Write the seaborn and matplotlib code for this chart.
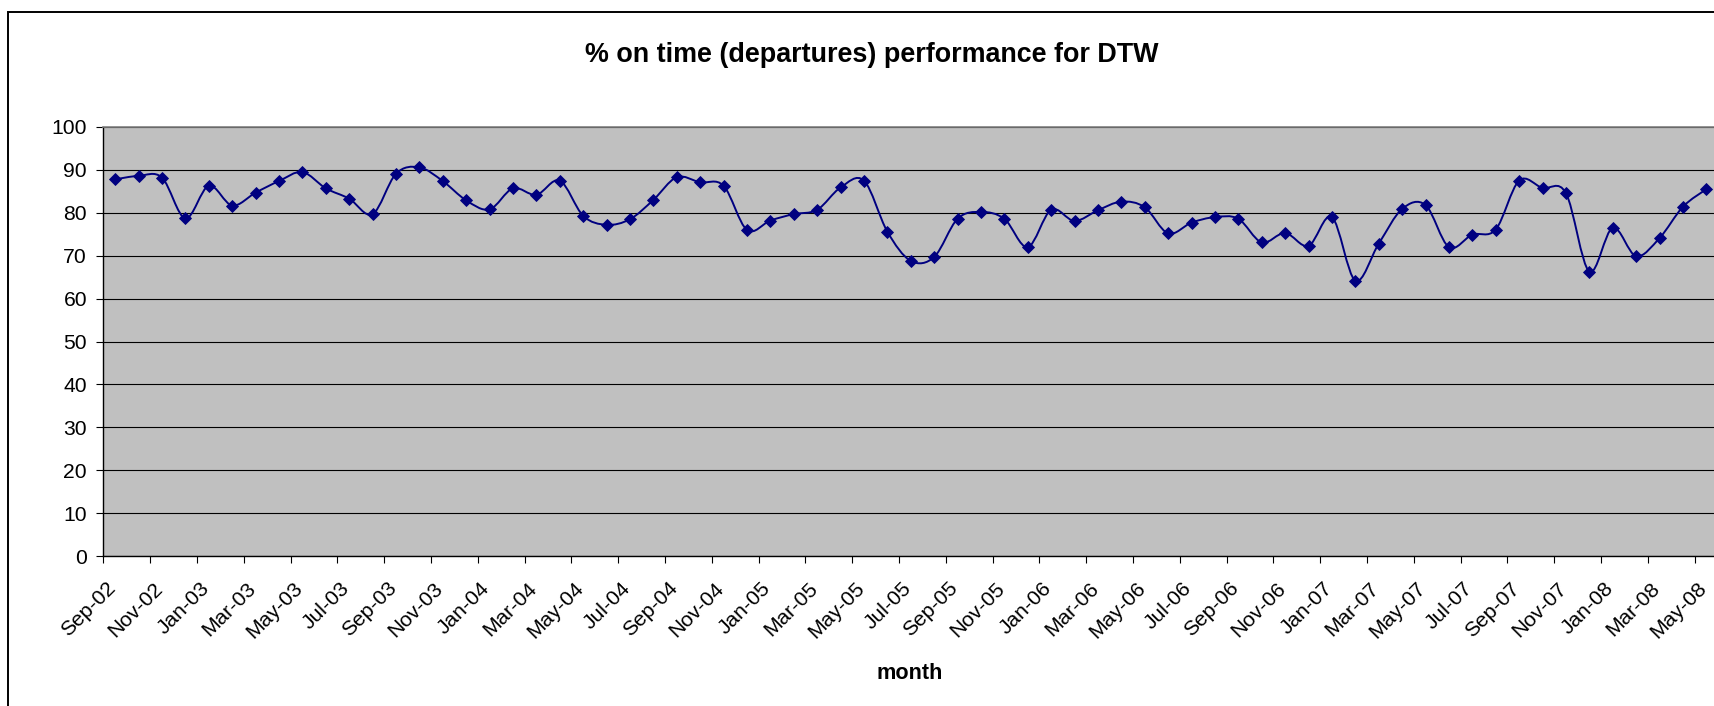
import numpy as np
import pandas as pd
import matplotlib
matplotlib.use("Agg")
import matplotlib.pyplot as plt
import matplotlib.transforms as mtransforms
from matplotlib.path import Path
from matplotlib.patches import PathPatch, Rectangle
import seaborn as sns

# Monthly on-time departure percentage at DTW, Sep 2002 - May 2008
months = pd.date_range("2002-09-01", periods=69, freq="MS")
on_time_pct = [
    87.8, 88.6, 88.2, 78.7, 86.3, 81.7, 84.7, 87.4, 89.5, 85.7, 83.3, 79.7,
    89.1, 90.6, 87.4, 82.9, 80.8, 85.7, 84.2, 87.5, 79.3, 77.2, 78.5, 83.0,
    88.3, 87.1, 86.3, 76.0, 78.2, 79.7, 80.7, 85.9, 87.5, 75.6, 68.8, 69.7,
    78.6, 80.2, 78.6, 72.0, 80.7, 78.1, 80.6, 82.6, 81.3, 75.2, 77.7, 79.0,
    78.6, 73.1, 75.3, 72.3, 79.0, 64.2, 72.8, 80.9, 81.8, 72.0, 74.9, 76.1,
    87.5, 85.8, 84.6, 66.3, 76.5, 69.9, 74.1, 81.4, 85.5,
]
y_ticks = list(range(0, 101, 10))
tick_months = months[::2]
tick_labels = [d.strftime("%b-%y") for d in tick_months]

title = "% on time (departures) performance for DTW"
x_title = "month"

NAVY = "#000080"
PLOT_BG = "#C0C0C0"

sns.set_theme(style="white")
plt.rcParams["font.family"] = ["Liberation Sans", "DejaVu Sans"]

W, H = 1715, 706
fig = plt.figure(figsize=(W / 100, H / 100), dpi=100)
fig.patch.set_facecolor("white")

# plot area in pixel coordinates (right edge runs just past the canvas)
left_px, right_px, top_px, bottom_px = 103.5, 1718.0, 127.0, 556.0
ax = fig.add_axes([left_px / W, (H - bottom_px) / H,
                   (right_px - left_px) / W, (bottom_px - top_px) / H])
ax.set_facecolor(PLOT_BG)

# each month occupies one slot; points sit in the middle of their slot
df = pd.DataFrame({
    "slot": np.arange(len(on_time_pct)) + 0.5,
    "pct": on_time_pct,
})

# smoothed connecting line (cubic Bezier segments through each point)
pts = df[["slot", "pct"]].to_numpy(dtype=float)
n = len(pts)
verts = [pts[0]]
codes = [Path.MOVETO]
for i in range(n - 1):
    p0 = pts[max(i - 1, 0)]
    p1 = pts[i]
    p2 = pts[i + 1]
    p3 = pts[min(i + 2, n - 1)]
    c1 = p1 + (p2 - p0) / 6.0
    c2 = p2 - (p3 - p1) / 6.0
    verts += [c1, c2, p2]
    codes += [Path.CURVE4] * 3
ax.add_patch(PathPatch(Path(verts, codes), fill=False, edgecolor=NAVY,
                       lw=1.4, transform=ax.transData, zorder=3))

sns.lineplot(data=df, x="slot", y="pct", ax=ax, color=NAVY, linestyle="",
             marker="D", markersize=6.3, markeredgecolor=NAVY,
             markeredgewidth=0.6, zorder=4, legend=False)

ax.set_xlim(0, len(on_time_pct))
ax.set_ylim(0, 100)
ax.set_xlabel("")
ax.set_ylabel("")

ax.set_yticks(y_ticks)
ax.set_yticklabels([str(v) for v in y_ticks])
ax.set_xticks(np.arange(0, len(on_time_pct), 2))
ax.set_xticklabels(tick_labels)

ax.set_axisbelow(True)
ax.yaxis.grid(True, color="black", lw=0.8)
ax.xaxis.grid(False)

ax.tick_params(axis="y", left=True, length=5.3, width=0.8, color="black",
               labelsize=15.2, labelcolor="black", pad=6.5)
ax.tick_params(axis="x", bottom=True, length=5.3, width=0.8, color="black",
               labelsize=15.2, labelcolor="black", pad=11.0)

shift = mtransforms.ScaledTranslation(2.5 / 100, 0, fig.dpi_scale_trans)
for lbl in ax.get_xticklabels():
    lbl.set_rotation(45)
    lbl.set_ha("right")
    lbl.set_va("top")
    lbl.set_rotation_mode("anchor")
    lbl.set_transform(lbl.get_transform() + shift)

for side in ("left", "bottom"):
    ax.spines[side].set_color("black")
    ax.spines[side].set_linewidth(1.0)
ax.spines["top"].set_color("#808080")
ax.spines["top"].set_linewidth(1.2)
ax.spines["right"].set_visible(False)

fig.text(872 / W, 1 - 62 / H, title, ha="center", va="baseline",
         fontsize=19.4, fontweight="bold", color="black")
fig.text(910 / W, 1 - 679 / H, x_title, ha="center", va="baseline",
         fontsize=15.6, fontweight="bold", color="black")

# chart-area frame
fig.add_artist(Rectangle((8.5 / W, -0.05), 1.2, 1.05 - 12.5 / H,
                         transform=fig.transFigure, fill=False,
                         edgecolor="black", lw=1.4, zorder=10))

fig.savefig("out.png", dpi=100, facecolor="white")
